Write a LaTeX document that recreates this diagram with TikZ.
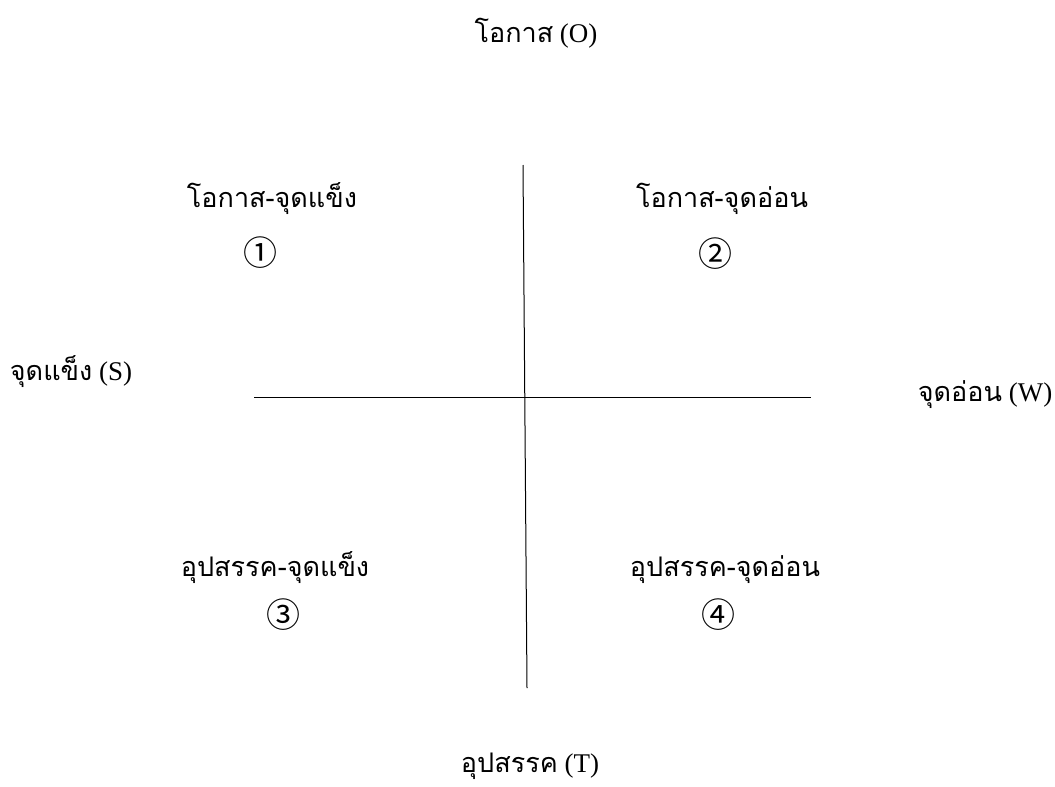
\documentclass[tikz,border=0pt]{standalone}
\usepackage{fontspec}
\setmainfont{Liberation Serif}
\newfontfamily\thai[Script=Thai]{Loma}
\newfontfamily\sym{Noto Sans CJK JP}
\begin{document}
\begin{tikzpicture}[x=1pt,y=-1pt,
  lbl/.style={inner sep=0pt,anchor=base,font=\fontsize{27}{32}\selectfont},
  num/.style={inner sep=0pt,anchor=center,font=\sym\fontsize{34}{38}\selectfont},
  axis/.style={line width=1pt,black}]
\useasboundingbox (0,0) rectangle (1055,787);
\node[lbl] (o) at (536,42) {{\thai โอกาส} (O)};
\node[lbl] (t) at (530,772) {{\thai อุปสรรค} (T)};
\node[lbl] (s) at (71,380) {{\thai จุดแข็ง} (S)};
\node[lbl] (w) at (985,401) {{\thai จุดอ่อน} (W)};
\node[lbl] (so) at (272,207) {\thai โอกาส-จุดแข็ง};
\node[lbl] (wo) at (722,207) {\thai โอกาส-จุดอ่อน};
\node[lbl] (st) at (275,576) {\thai อุปสรรค-จุดแข็ง};
\node[lbl] (wt) at (725,576) {\thai อุปสรรค-จุดอ่อน};
\node[num] (n1) at (260,253) {①};
\node[num] (n2) at (715,254) {②};
\node[num] (n3) at (283,615) {③};
\node[num] (n4) at (718,615) {④};
\coordinate (vt) at (523,165);
\coordinate (vb) at (527,688);
\coordinate (hl) at (254,397);
\coordinate (hr) at (811,397);
\draw[axis] (vt) -- (vb);
\draw[axis] (hl) -- (hr);
\end{tikzpicture}
\end{document}
